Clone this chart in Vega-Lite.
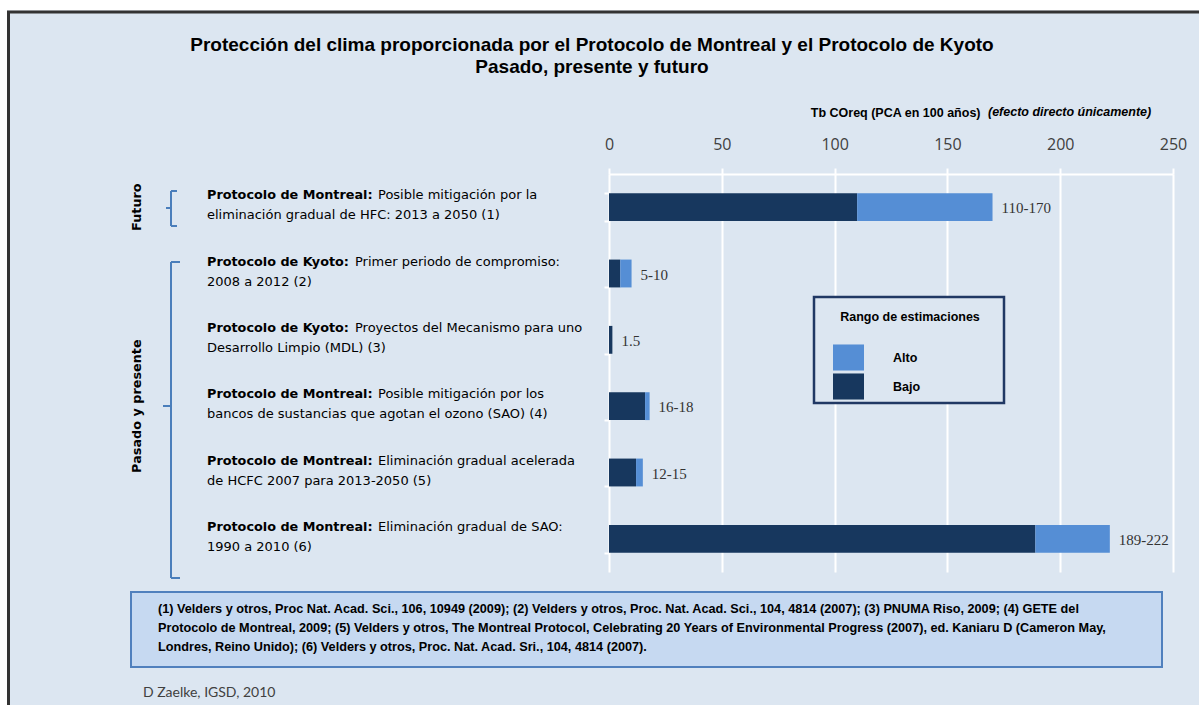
{
  "$schema": "https://vega.github.io/schema/vega-lite/v6.json",
  "width": 564,
  "height": 398,
  "autosize": {"type": "none"},
  "padding": {"left": 609, "top": 174, "right": 26, "bottom": 133},
  "background": "#dce6f1",
  "config": {"view": {"stroke": null}},
  "datasets": {
    "bars": [
      {"id": "r1", "tipo": "Bajo", "ini": 0, "fin": 110},
      {"id": "r1", "tipo": "Alto", "ini": 110, "fin": 170},
      {"id": "r2", "tipo": "Bajo", "ini": 0, "fin": 5},
      {"id": "r2", "tipo": "Alto", "ini": 5, "fin": 10},
      {"id": "r3", "tipo": "Bajo", "ini": 0, "fin": 1.5},
      {"id": "r4", "tipo": "Bajo", "ini": 0, "fin": 16},
      {"id": "r4", "tipo": "Alto", "ini": 16, "fin": 18},
      {"id": "r5", "tipo": "Bajo", "ini": 0, "fin": 12},
      {"id": "r5", "tipo": "Alto", "ini": 12, "fin": 15},
      {"id": "r6", "tipo": "Bajo", "ini": 0, "fin": 189},
      {"id": "r6", "tipo": "Alto", "ini": 189, "fin": 222}
    ],
    "rows": [
      {"id": "r1", "proto": "Montreal", "pre": "Protocolo de Montreal:", "l1": "Posible mitigación por la", "l2": "eliminación gradual de HFC: 2013 a 2050 (1)", "rango": "110-170", "max": 170},
      {"id": "r2", "proto": "Kyoto", "pre": "Protocolo de Kyoto:", "l1": "Primer periodo de compromiso:", "l2": "2008 a 2012 (2)", "rango": "5-10", "max": 10},
      {"id": "r3", "proto": "Kyoto", "pre": "Protocolo de Kyoto:", "l1": "Proyectos del Mecanismo para uno", "l2": "Desarrollo Limpio (MDL) (3)", "rango": "1.5", "max": 1.5},
      {"id": "r4", "proto": "Montreal", "pre": "Protocolo de Montreal:", "l1": "Posible mitigación por los", "l2": "bancos de sustancias que agotan el ozono (SAO) (4)", "rango": "16-18", "max": 18},
      {"id": "r5", "proto": "Montreal", "pre": "Protocolo de Montreal:", "l1": "Eliminación gradual acelerada", "l2": "de HCFC 2007 para 2013-2050 (5)", "rango": "12-15", "max": 15},
      {"id": "r6", "proto": "Montreal", "pre": "Protocolo de Montreal:", "l1": "Eliminación gradual de SAO:", "l2": "1990 a 2010 (6)", "rango": "189-222", "max": 222}
    ],
    "groups": [
      {"id": "r1", "grupo": "Futuro"},
      {"id": "r4", "grupo": "Pasado y presente"}
    ]
  },
  "layer": [
    {
      "data": {"values": [{}]},
      "mark": {"type": "rect", "fillOpacity": 0, "stroke": "white", "strokeWidth": 20},
      "encoding": {"x": {"value": -612}, "x2": {"value": 640}, "y": {"value": -173.5}, "y2": {"value": 570}}
    },
    {
      "data": {"values": [{}]},
      "mark": {"type": "rect", "fillOpacity": 0, "stroke": "#333333", "strokeWidth": 3},
      "encoding": {"x": {"value": -600.5}, "x2": {"value": 620}, "y": {"value": -162}, "y2": {"value": 570}}
    },
    {
      "data": {"name": "bars"},
      "mark": {"type": "bar"},
      "encoding": {
        "y": {
          "field": "id", "type": "nominal",
          "scale": {"paddingInner": 0.58, "paddingOuter": 0.29},
          "axis": {"orient": "left", "labels": false, "domain": false, "ticks": true, "tickColor": "white", "tickSize": 5, "tickWidth": 2, "tickBand": "extent", "grid": false, "title": null}
        },
        "x": {
          "field": "ini", "type": "quantitative",
          "scale": {"domain": [0, 250], "nice": false},
          "axis": {
            "orient": "top", "values": [0, 50, 100, 150, 200, 250],
            "domainColor": "white", "domainWidth": 2,
            "tickColor": "white", "tickSize": 6, "tickWidth": 2,
            "grid": true, "gridColor": "white", "gridWidth": 2,
            "labelFont": "Open Sans", "labelFontSize": 16, "labelColor": "#404040",
            "labelPadding": 24, "labelBaseline": "middle", "labelFlush": false,
            "title": "Tb COreq (PCA en 100 años)",
            "titleX": 371, "titleY": -62, "titleAlign": "right", "titleBaseline": "middle", "titleAngle": 0,
            "titleFont": "Liberation Sans", "titleFontWeight": "bold", "titleFontSize": 12.5, "titleColor": "black"
          }
        },
        "x2": {"field": "fin"},
        "color": {
          "field": "tipo", "type": "nominal",
          "scale": {"domain": ["Alto", "Bajo"], "range": ["#558ed5", "#17375e"]},
          "legend": {
            "orient": "none", "legendX": 224, "legendY": 168, "title": null,
            "symbolType": "M-1,-0.84H1V0.84H-1Z", "symbolSize": 961, "symbolStrokeWidth": 0, "symbolOpacity": 1,
            "labelOffset": 29, "labelFont": "Liberation Sans", "labelFontWeight": "bold", "labelFontSize": 12.5, "labelColor": "black",
            "rowPadding": 0, "padding": 0
          }
        }
      }
    },
    {
      "data": {"name": "rows"},
      "mark": {"type": "text", "align": "left", "baseline": "middle", "dx": 9, "dy": 1, "font": "Liberation Serif", "fontSize": 15, "color": "#333333"},
      "encoding": {"y": {"field": "id", "type": "nominal"}, "x": {"field": "max", "type": "quantitative"}, "text": {"field": "rango"}}
    },
    {
      "data": {"name": "rows"},
      "mark": {"type": "text", "align": "left", "baseline": "middle", "dy": -12, "font": "DejaVu Sans", "fontWeight": "bold", "fontSize": 12.8, "color": "black"},
      "encoding": {"y": {"field": "id", "type": "nominal"}, "x": {"value": -402}, "text": {"field": "pre"}}
    },
    {
      "data": {"name": "rows"},
      "transform": [{"filter": "datum.proto == 'Montreal'"}],
      "mark": {"type": "text", "align": "left", "baseline": "middle", "dy": -12, "font": "DejaVu Sans", "fontSize": 13, "color": "black"},
      "encoding": {"y": {"field": "id", "type": "nominal"}, "x": {"value": -231}, "text": {"field": "l1"}}
    },
    {
      "data": {"name": "rows"},
      "transform": [{"filter": "datum.proto == 'Kyoto'"}],
      "mark": {"type": "text", "align": "left", "baseline": "middle", "dy": -12, "font": "DejaVu Sans", "fontSize": 13, "color": "black"},
      "encoding": {"y": {"field": "id", "type": "nominal"}, "x": {"value": -254}, "text": {"field": "l1"}}
    },
    {
      "data": {"name": "rows"},
      "mark": {"type": "text", "align": "left", "baseline": "middle", "dy": 8, "font": "DejaVu Sans", "fontSize": 13, "color": "black"},
      "encoding": {"y": {"field": "id", "type": "nominal"}, "x": {"value": -402}, "text": {"field": "l2"}}
    },
    {
      "data": {"name": "groups"},
      "mark": {"type": "text", "align": "center", "baseline": "middle", "angle": 270, "font": "DejaVu Sans", "fontWeight": "bold", "fontSize": 12.8, "color": "black"},
      "encoding": {"y": {"field": "id", "type": "nominal"}, "x": {"value": -472}, "text": {"field": "grupo"}}
    },
    {"data": {"values": [{}]}, "mark": {"type": "rule", "color": "#4a7ebb", "strokeWidth": 2}, "encoding": {"x": {"value": -438}, "y": {"value": 17}, "y2": {"value": 52}}},
    {"data": {"values": [{}]}, "mark": {"type": "rule", "color": "#4a7ebb", "strokeWidth": 2}, "encoding": {"x": {"value": -438}, "x2": {"value": -432}, "y": {"value": 17}}},
    {"data": {"values": [{}]}, "mark": {"type": "rule", "color": "#4a7ebb", "strokeWidth": 2}, "encoding": {"x": {"value": -438}, "x2": {"value": -432}, "y": {"value": 52}}},
    {"data": {"values": [{}]}, "mark": {"type": "rule", "color": "#4a7ebb", "strokeWidth": 2}, "encoding": {"x": {"value": -443}, "x2": {"value": -438}, "y": {"value": 34}}},
    {"data": {"values": [{}]}, "mark": {"type": "rule", "color": "#4a7ebb", "strokeWidth": 2}, "encoding": {"x": {"value": -438}, "y": {"value": 88}, "y2": {"value": 404}}},
    {"data": {"values": [{}]}, "mark": {"type": "rule", "color": "#4a7ebb", "strokeWidth": 2}, "encoding": {"x": {"value": -438}, "x2": {"value": -429}, "y": {"value": 88}}},
    {"data": {"values": [{}]}, "mark": {"type": "rule", "color": "#4a7ebb", "strokeWidth": 2}, "encoding": {"x": {"value": -438}, "x2": {"value": -429}, "y": {"value": 404}}},
    {"data": {"values": [{}]}, "mark": {"type": "rule", "color": "#4a7ebb", "strokeWidth": 2}, "encoding": {"x": {"value": -446}, "x2": {"value": -438}, "y": {"value": 232}}},
    {
      "data": {"values": [{}]},
      "mark": {"type": "rect", "fill": "#dce6f1", "stroke": "#203864", "strokeWidth": 2.5},
      "encoding": {"x": {"value": 205}, "x2": {"value": 395}, "y": {"value": 123}, "y2": {"value": 229}}
    },
    {
      "data": {"values": [{}]},
      "mark": {"type": "text", "align": "center", "baseline": "middle", "font": "Liberation Sans", "fontWeight": "bold", "fontSize": 12.5, "color": "black"},
      "encoding": {"x": {"value": 301}, "y": {"value": 143}, "text": {"value": "Rango de estimaciones"}}
    },
    {
      "data": {"values": [{}]},
      "mark": {"type": "rect", "fill": "#c6d9f1", "stroke": "#5080bd", "strokeWidth": 2},
      "encoding": {"x": {"value": -478}, "x2": {"value": 553}, "y": {"value": 418}, "y2": {"value": 493}}
    },
    {
      "data": {"values": [{}]},
      "mark": {"type": "text", "align": "left", "baseline": "alphabetic", "font": "Liberation Sans", "fontWeight": "bold", "fontSize": 12.7, "lineHeight": 19, "color": "black"},
      "encoding": {
        "x": {"value": -451}, "y": {"value": 439},
        "text": {"value": [
          "(1) Velders y otros, Proc Nat. Acad. Sci., 106, 10949 (2009); (2) Velders y otros, Proc. Nat. Acad. Sci., 104, 4814 (2007); (3) PNUMA Riso, 2009; (4) GETE del",
          "Protocolo de Montreal, 2009; (5) Velders y otros, The Montreal Protocol, Celebrating 20 Years of Environmental Progress (2007), ed. Kaniaru D (Cameron May,",
          "Londres, Reino Unido); (6) Velders y otros, Proc. Nat. Acad. Sri., 104, 4814 (2007)."
        ]}
      }
    },
    {
      "data": {"values": [{}]},
      "mark": {"type": "text", "align": "left", "baseline": "alphabetic", "font": "Lato", "fontSize": 14, "color": "#404040"},
      "encoding": {"x": {"value": -466}, "y": {"value": 523}, "text": {"value": "D Zaelke, IGSD, 2010"}}
    },
    {
      "data": {"values": [{}]},
      "mark": {"type": "text", "align": "center", "baseline": "alphabetic", "font": "Liberation Sans", "fontWeight": "bold", "fontSize": 19, "lineHeight": 22, "color": "black"},
      "encoding": {
        "x": {"value": -17}, "y": {"value": -123},
        "text": {"value": ["Protección del clima proporcionada por el Protocolo de Montreal y el Protocolo de Kyoto", "Pasado, presente y futuro"]}
      }
    },
    {
      "data": {"values": [{}]},
      "mark": {"type": "text", "align": "left", "baseline": "middle", "font": "Liberation Sans", "fontWeight": "bold", "fontStyle": "italic", "fontSize": 12.5, "color": "black"},
      "encoding": {"x": {"value": 379}, "y": {"value": -62}, "text": {"value": "(efecto directo únicamente)"}}
    }
  ]
}
